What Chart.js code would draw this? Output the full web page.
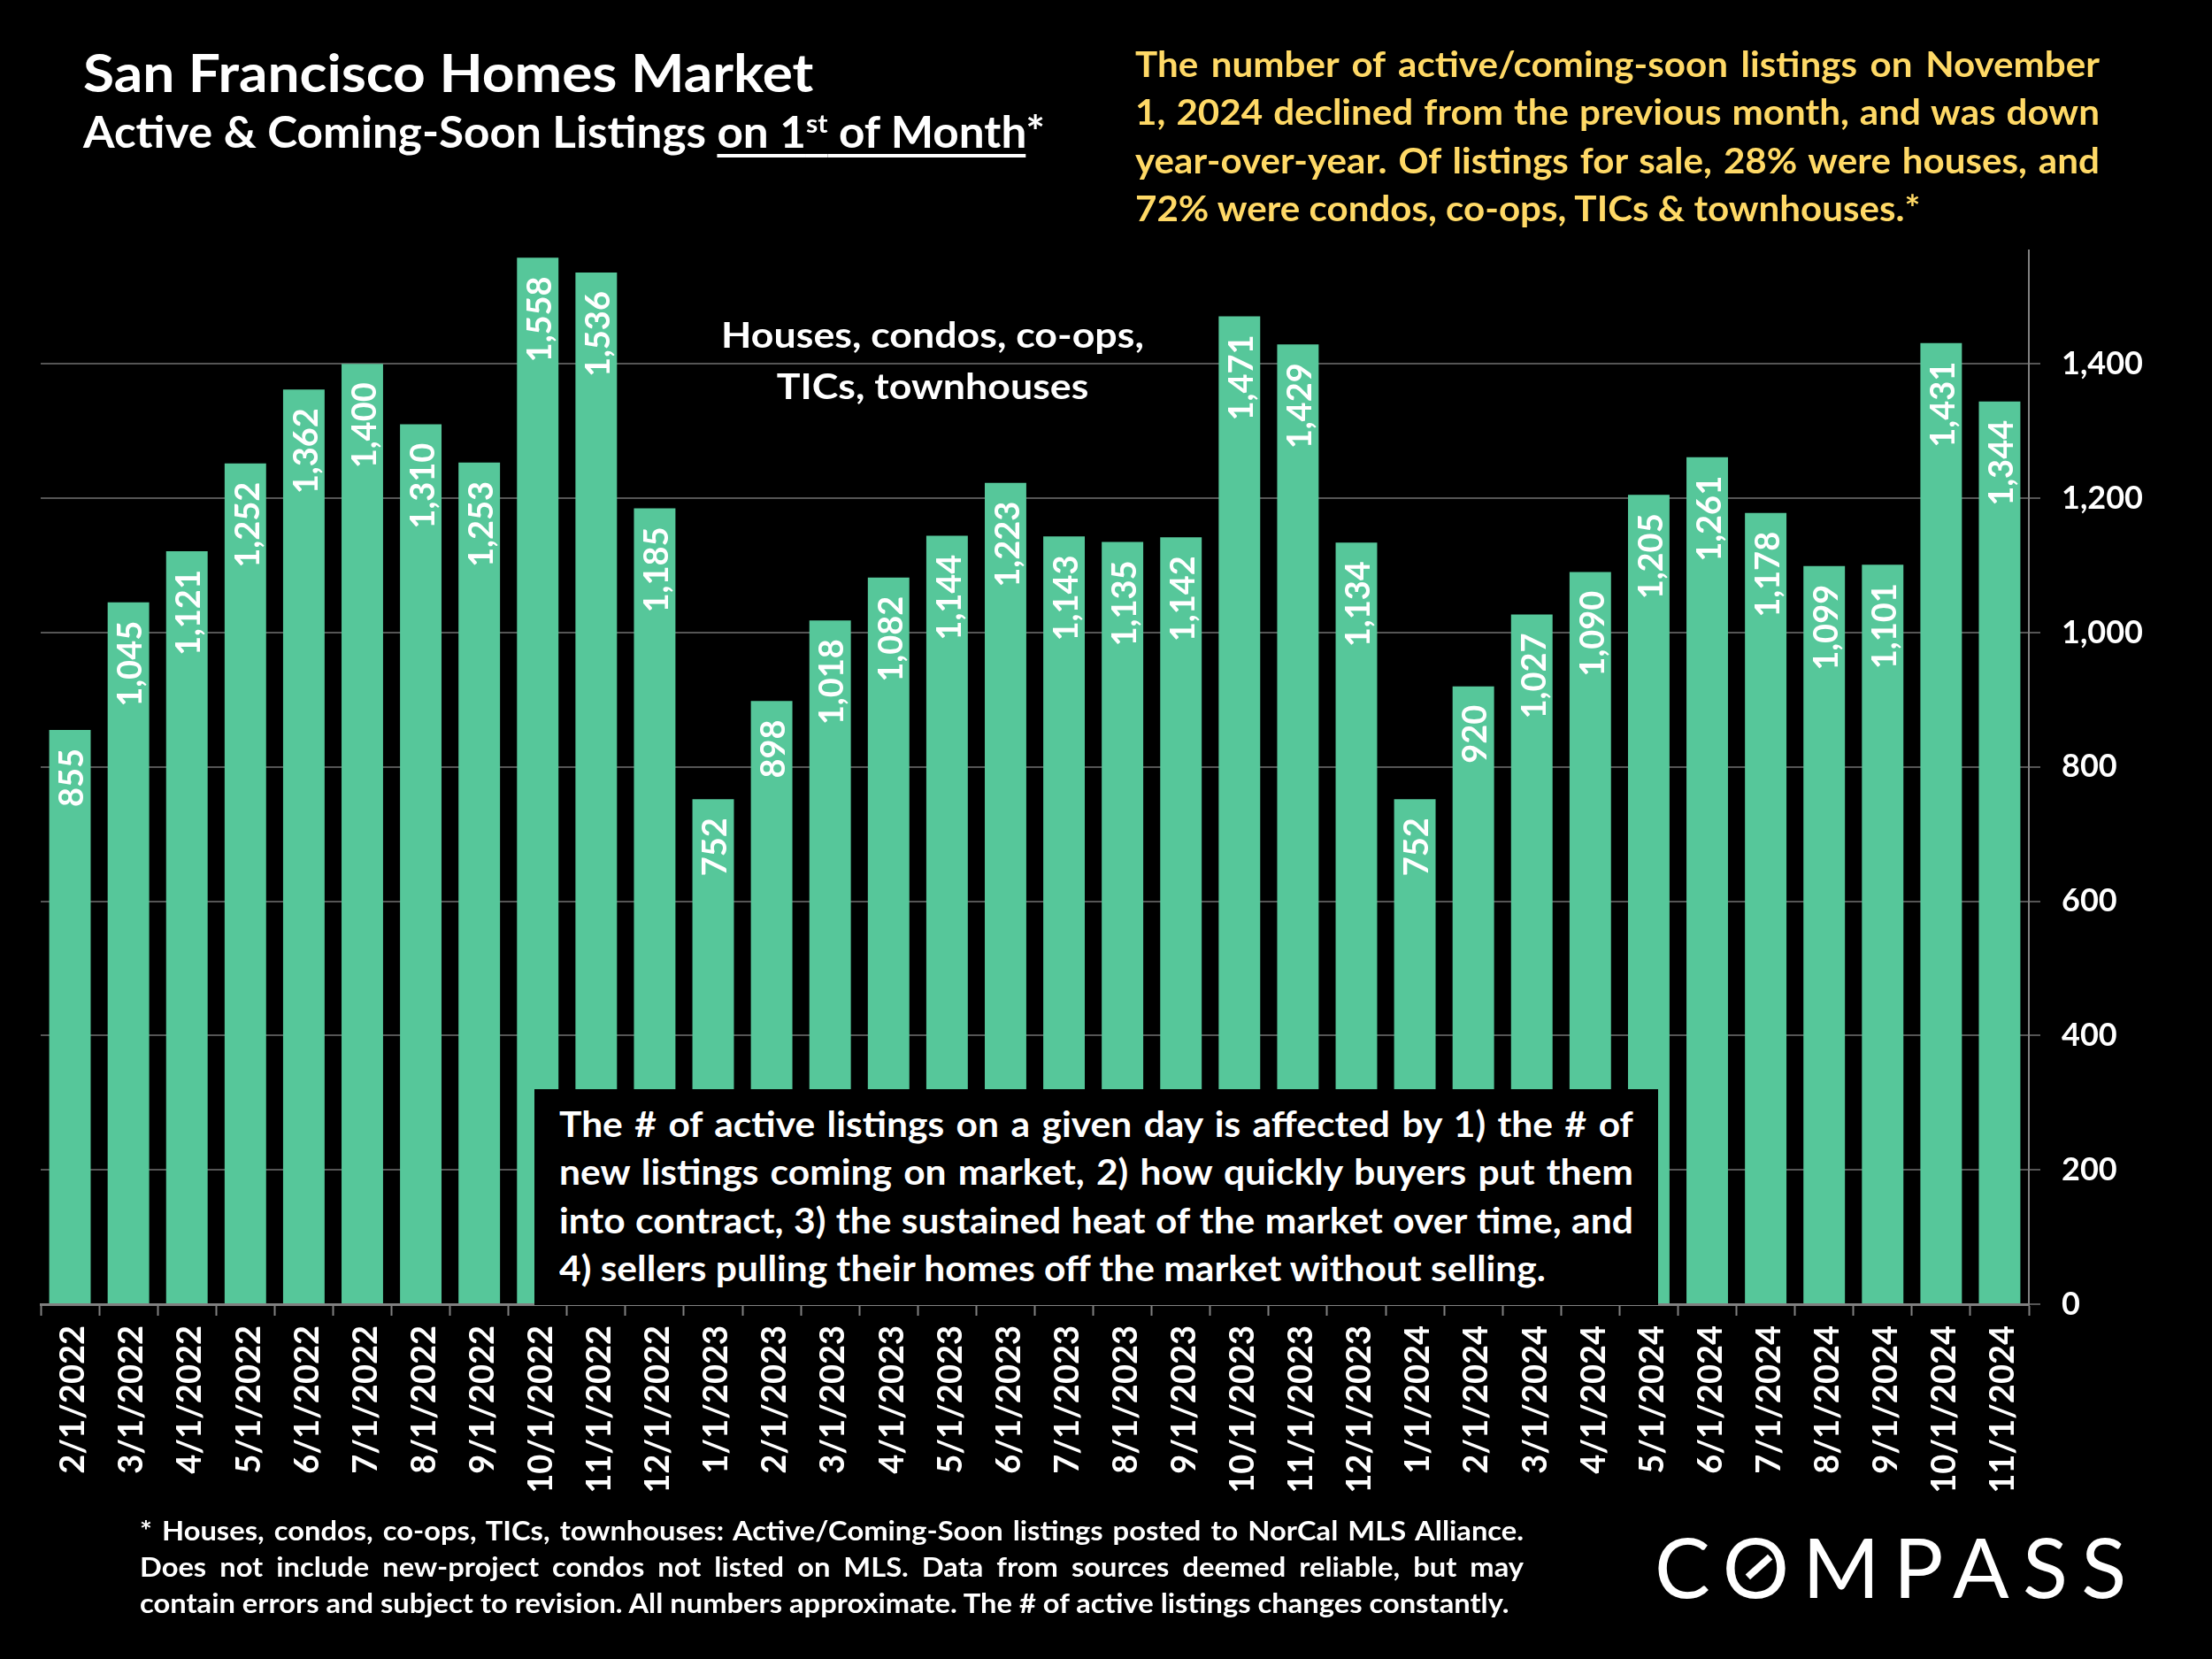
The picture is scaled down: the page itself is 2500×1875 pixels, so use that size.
<!DOCTYPE html>
<html>
<head>
<meta charset="utf-8">
<title>San Francisco Homes Market</title>
<script src="https://cdn.jsdelivr.net/npm/chart.js@4"></script>
<style>
    html, body { margin: 0; padding: 0; background: #000; }
    #wrap { position: relative; width: 2500px; height: 1875px; overflow: hidden; font-family: 'Lato', sans-serif; font-weight: bold; color: #fff; }
    #listingsChart { position: absolute; left: 0; top: 0; }
    .txt { position: absolute; white-space: nowrap; transform-origin: left top; }
    .just div { text-align: justify; text-align-last: justify; }
    .just div.end { text-align-last: left; }
    #title { left: 94px; top: 41px; font-size: 60px; line-height: 80px; transform: scaleX(1.067); }
    #subtitle { left: 94px; top: 115px; font-size: 49px; line-height: 66px; transform: scaleX(1.046); }
    #subtitle u { text-decoration-thickness: 4px; text-underline-offset: 7px; }
    #subtitle sup { font-size: 29px; line-height: 0; vertical-align: 17px; }
    #summary { left: 1283px; top: 45px; width: 1048px; font-size: 40.5px; line-height: 54.3px; color: #ffd966; transform: scaleX(1.04); }
    #series { left: 754px; top: 349px; width: 600px; text-align: center; font-size: 41px; line-height: 58px; transform-origin: center top; transform: scaleX(1.09); }
    #note { left: 604px; top: 1231px; width: 1270px; height: 244px; background: #000; }
    #noteText { left: 632px; top: 1243px; width: 1156px; font-size: 40.5px; line-height: 54.3px; transform: scaleX(1.05); }
    #footnote { left: 158px; top: 1709px; width: 1459.5px; font-size: 30.5px; line-height: 41px; transform: scaleX(1.0716); }
    #logo { left: 1870px; top: 1714px; font-size: 94px; line-height: 112px; font-weight: normal; letter-spacing: 15.3px; }
    #logoSlash { position: absolute; left: 1971px; top: 1767px; width: 34px; height: 8px; background: #fff; transform: rotate(-42deg); }
</style>
</head>
<body>
<div id="wrap">
    <canvas id="listingsChart" width="2500" height="1875"></canvas>

    <div class="txt" id="title">San Francisco Homes Market</div>
    <div class="txt" id="subtitle">Active &amp; Coming-Soon Listings <u>on 1<sup>st</sup> of Month</u>*</div>

    <div class="txt just" id="summary">
        <div>The number of active/coming-soon listings on November</div>
        <div>1, 2024 declined from the previous month, and was down</div>
        <div>year-over-year. Of listings for sale, 28% were houses, and</div>
        <div class="end">72% were condos, co-ops, TICs &amp; townhouses.*</div>
    </div>

    <div class="txt" id="series">Houses, condos, co-ops,<br>TICs, townhouses</div>

    <div class="txt" id="note"></div>
    <div class="txt just" id="noteText">
        <div>The # of active listings on a given day is affected by 1) the # of</div>
        <div>new listings coming on market, 2) how quickly buyers put them</div>
        <div>into contract, 3) the sustained heat of the market over time, and</div>
        <div class="end">4) sellers pulling their homes off the market without selling.</div>
    </div>

    <div class="txt just" id="footnote">
        <div>* Houses, condos, co-ops, TICs, townhouses: Active/Coming-Soon listings posted to NorCal MLS Alliance.</div>
        <div>Does not include new-project condos not listed on MLS. Data from sources deemed reliable, but may</div>
        <div class="end">contain errors and subject to revision. All numbers approximate. The # of active listings changes constantly.</div>
    </div>

    <div class="txt" id="logo">COMPASS</div>
    <div id="logoSlash"></div>
</div>

<script>
const months = [
    '2/1/2022', '3/1/2022', '4/1/2022', '5/1/2022', '6/1/2022', '7/1/2022', '8/1/2022', '9/1/2022',
    '10/1/2022', '11/1/2022', '12/1/2022', '1/1/2023', '2/1/2023', '3/1/2023', '4/1/2023', '5/1/2023',
    '6/1/2023', '7/1/2023', '8/1/2023', '9/1/2023', '10/1/2023', '11/1/2023', '12/1/2023', '1/1/2024',
    '2/1/2024', '3/1/2024', '4/1/2024', '5/1/2024', '6/1/2024', '7/1/2024', '8/1/2024', '9/1/2024',
    '10/1/2024', '11/1/2024'
];
const listings = [
    855, 1045, 1121, 1252, 1362, 1400, 1310, 1253,
    1558, 1536, 1185, 752, 898, 1018, 1082, 1144,
    1223, 1143, 1135, 1142, 1471, 1429, 1134, 752,
    920, 1027, 1090, 1205, 1261, 1178, 1099, 1101,
    1431, 1344
];
const yTicks = [0, 200, 400, 600, 800, 1000, 1200, 1400];
const yMax = 1569;

const barColor = '#56c79a';
const gridColor = '#555555';
const axisColor = '#808080';

// value labels turned on their side, just inside the top of each bar
const barLabels = {
    id: 'barLabels',
    afterDatasetsDraw(chart) {
        const ctx = chart.ctx;
        ctx.save();
        ctx.font = 'bold 38px Lato';
        ctx.fillStyle = '#fff';
        ctx.textAlign = 'right';
        ctx.textBaseline = 'middle';
        chart.getDatasetMeta(0).data.forEach((bar, i) => {
            ctx.save();
            ctx.translate(bar.x, bar.y + 21);
            ctx.rotate(-Math.PI / 2);
            ctx.fillText(listings[i].toLocaleString('en-US'), 0, 3);
            ctx.restore();
        });
        ctx.restore();
    }
};

new Chart(document.getElementById('listingsChart'), {
    type: 'bar',
    data: {
        labels: months,
        datasets: [{ data: listings, backgroundColor: barColor, barPercentage: 0.71, categoryPercentage: 1 }]
    },
    plugins: [barLabels],
    options: {
        responsive: false,
        animation: false,
        devicePixelRatio: 1,
        layout: { padding: { left: 46, top: 283, right: 0, bottom: 0 } },
        plugins: { legend: { display: false }, tooltip: { enabled: false } },
        scales: {
            x: {
                afterFit: scale => { scale.height = 401; },
                border: { color: axisColor, width: 3 },
                grid: { offset: true, drawOnChartArea: false, tickColor: axisColor, tickLength: 13, tickWidth: 2 },
                ticks: {
                    autoSkip: false, minRotation: 90, maxRotation: 90, padding: 11, labelOffset: 4,
                    color: '#fff', font: { family: 'Lato', weight: 'bold', size: 38 }
                }
            },
            y: {
                position: 'right',
                min: 0,
                max: yMax,
                afterFit: scale => { scale.width = 207; },
                afterBuildTicks: scale => { scale.ticks = yTicks.map(value => ({ value })); },
                border: { color: axisColor, width: 2 },
                grid: { color: gridColor, lineWidth: 2, tickColor: gridColor, tickLength: 13 },
                ticks: {
                    padding: 24,
                    color: '#fff', font: { family: 'Lato', weight: 'bold', size: 36 },
                    callback: v => v.toLocaleString('en-US')
                }
            }
        }
    }
});
</script>
</body>
</html>
